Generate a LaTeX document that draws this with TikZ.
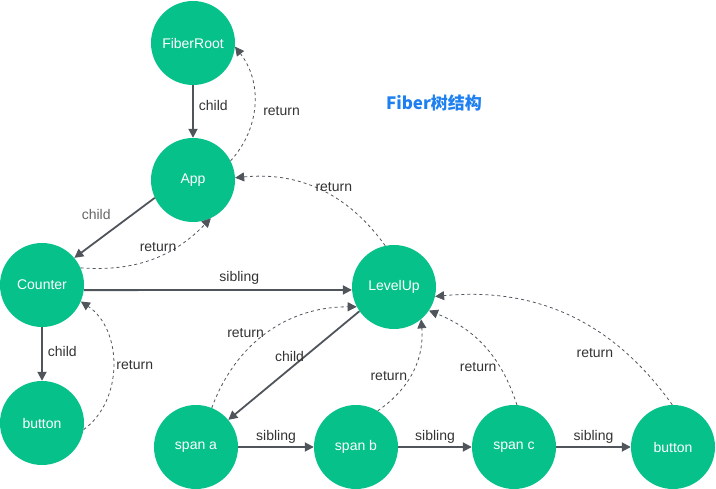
\documentclass[tikz,border=0pt]{standalone}
\usepackage{fontspec}
\setmainfont{Liberation Sans}
\newfontfamily\cjk{Noto Sans CJK SC}
\usetikzlibrary{arrows.meta,positioning}
\definecolor{fibergreen}{HTML}{07C18A}
\definecolor{edgegray}{HTML}{50555C}
\definecolor{titleblue}{HTML}{1E80F0}

\begin{document}
\begin{tikzpicture}[x=1pt,y=-1pt,
    fiber/.style={circle,fill=fibergreen,minimum size=84pt,inner sep=0pt,
      text=white,font=\fontsize{14}{16}\selectfont},
    link/.style={draw=edgegray,line width=1.8pt,-{Triangle[length=9pt,width=9pt]}},
    back/.style={draw=edgegray,line width=0.8pt,dash pattern=on 3pt off 3pt,
      -{Triangle[length=9pt,width=9pt]}},
    lbl/.style={text=black!80,font=\fontsize{14}{16}\selectfont,inner sep=1pt}]
  \useasboundingbox (0,0) rectangle (716,489);

  % nodes
  \node[fiber] (root) at (193,43) {FiberRoot};
  \node[fiber] (app) at (193,180) {App};
  \node[fiber] (counter) at (42,285) {Counter};
  \node[fiber] (levelup) at (394,287) {LevelUp};
  \node[fiber] (btn1) at (42,423) {button};
  \node[fiber] (spana) at (196,447) {span a};
  \node[fiber] (spanb) at (356,447) {span b};
  \node[fiber] (spanc) at (514,447) {span c};
  \node[fiber] (btn2) at (673,447) {button};

  \node[text=titleblue,font=\cjk\bfseries\fontsize{17}{20}\selectfont] (title)
    at (434,103) {Fiber树结构};

  % child / sibling
  \draw[link] (root) -- node[lbl,right=4pt,pos=0.38] (l1) {child} (app);
  \draw[link] (app.-155) -- node[lbl,above left=6pt and 2pt,text=black!60] (l2) {child} (counter.40);
  \draw[link] (counter.-7) -- node[lbl,above=4pt,pos=0.58] (l3) {sibling} (levelup.184);
  \draw[link] (counter) -- node[lbl,right=4pt,pos=0.45] (l4) {child} (btn1);
  \draw[link] (levelup.-145) -- node[lbl,above left=2pt and -12pt] (l5) {child} (spana.40);
  \draw[link] (spana) -- node[lbl,above=2pt] (l6) {sibling} (spanb);
  \draw[link] (spanb) -- node[lbl,above=2pt] (l7) {sibling} (spanc);
  \draw[link] (spanc) -- node[lbl,above=2pt] (l8) {sibling} (btn2);

  % return
  \draw[back] (app.27) to[bend right=40]
    node[lbl,right=8pt,pos=0.45] (r1) {return} (root.-5);
  \draw[back] (counter.24) to[bend right=25]
    node[lbl,above=4pt,pos=0.55] (r2) {return} (app.-65);
  \draw[back] (levelup.102) to[bend right=30]
    node[lbl,above left=0pt and -26pt,pos=0.45] (r3) {return} (app.3);
  \draw[back] (btn1.-9) to[bend right=55]
    node[lbl,right=2pt,pos=0.5] (r4) {return} (counter.-23);
  \draw[back] (spana.68) to[bend left=35]
    node[lbl,left=2pt,pos=0.5] (r5) {return} (levelup.-152);
  \draw[back] (spanb.59) to[bend right=30]
    node[lbl,left=2pt,pos=0.45] (r6) {return} (levelup.-50);
  \draw[back] (spanc.86) to[bend right=25]
    node[lbl,left=2pt,pos=0.3] (r7) {return} (levelup.-34);
  \draw[back] (btn2.91) to[bend right=30]
    node[lbl,left=12pt,pos=0.24] (r8) {return} (levelup.-13);
\end{tikzpicture}
\end{document}
